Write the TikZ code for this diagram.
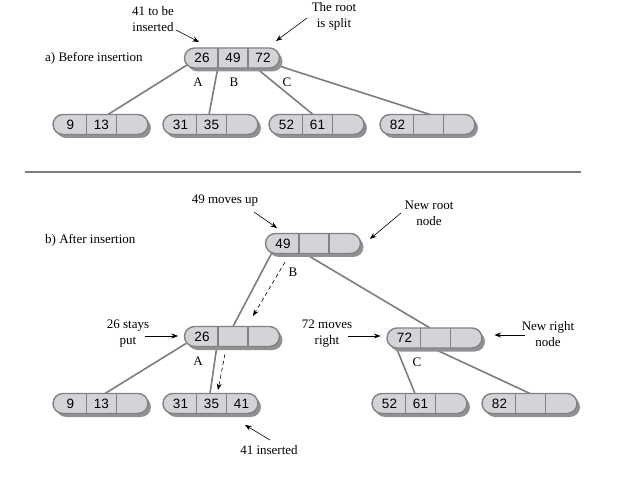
\documentclass[tikz,border=0pt]{standalone}
\usepackage{fontspec}
\setmainfont{Liberation Serif}
\newfontfamily\numfont{Liberation Sans}
\usetikzlibrary{shapes.misc,shadows,arrows.meta}
\definecolor{cellgray}{RGB}{212,212,216}
\definecolor{bordergray}{RGB}{130,130,133}
\definecolor{shadowgray}{RGB}{145,145,147}
\definecolor{linegray}{RGB}{125,125,125}
\pgfdeclarelayer{bg}
\pgfsetlayers{bg,main}
\tikzset{
  pill/.style={rounded rectangle, minimum width=95pt, minimum height=20pt, inner sep=0pt,
    fill=cellgray, draw=bordergray, line width=1.4pt,
    drop shadow={shadow xshift=3pt, shadow yshift=-3.5pt, fill=shadowgray, opacity=1}},
  divider/.style={draw=bordergray, line width=1.1pt},
  celltext/.style={font=\numfont\fontsize{13.5}{15}\selectfont, inner sep=0pt},
  lbl/.style={font=\fontsize{13}{16}\selectfont, align=center, inner sep=0pt},
  link/.style={draw=linegray, line width=1.6pt},
  note/.style={draw=black, line width=0.6pt, -{Stealth[length=6.5pt,width=5pt]}},
  dashnote/.style={draw=black, line width=0.6pt, dash pattern=on 4pt off 3pt, -{Stealth[length=6.5pt,width=5pt]}},
}
\newcommand\bpill[6]{%
  \node[pill] (#1) at (#2,#3) {};
  \draw[divider] ([shift={(-14,-10)}]#1.center) -- ([shift={(-14,10)}]#1.center);
  \draw[divider] ([shift={(16,-10)}]#1.center) -- ([shift={(16,10)}]#1.center);
  \node[celltext] (#1-1) at ([shift={(-30,0)}]#1.center) {#4};
  \node[celltext] (#1-2) at ([shift={(1,0)}]#1.center) {#5};
  \node[celltext] (#1-3) at ([shift={(31,0)}]#1.center) {#6};
}
\begin{document}
\begin{tikzpicture}[x=1pt,y=-1pt]
\useasboundingbox (0,0) rectangle (621,478);
% ---------- a) ----------
\bpill{R}{232}{58}{26}{49}{72}
\bpill{La}{100.5}{124.5}{9}{13}{}
\bpill{Lb}{210.5}{124.5}{31}{35}{}
\bpill{Lc}{316.5}{124.5}{52}{61}{}
\bpill{Ld}{427.5}{124.5}{82}{}{}
\begin{pgfonlayer}{bg}
\draw[link] ([shift={(-45,7)}]R.center) -- ([shift={(7.5,-10)}]La.center);
\draw[link] ([shift={(-14,9)}]R.center) -- ([shift={(-1.5,-10)}]Lb.center);
\draw[link] ([shift={(23,9)}]R.center) -- ([shift={(-3.5,-10)}]Lc.center);
\draw[link] ([shift={(44,7)}]R.center) -- ([shift={(2.5,-10)}]Ld.center);
\end{pgfonlayer}
\node[lbl] (A1) at (198,82) {A};
\node[lbl] (B1) at (234,82) {B};
\node[lbl] (C1) at (287,82) {C};
\node[lbl] (t41) at (153,19) {41 to be\\inserted};
\draw[note] ([shift={(23,11)}]t41.center) -- ([shift={(-33,-16)}]R.center);
\node[lbl] (troot) at (334,16) {The root\\is split};
\draw[note] ([shift={(-27,2)}]troot.center) -- ([shift={(44,-17)}]R.center);
\node[lbl, anchor=west] (ta) at (45,58) {a) Before insertion};
% separator
\coordinate (s1) at (25,172);
\coordinate (s2) at (581,172);
\draw[draw=linegray, line width=1.5pt] (s1) -- (s2);
% ---------- b) ----------
\bpill{N}{313}{243.5}{49}{}{}
\bpill{M}{232}{336.5}{26}{}{}
\bpill{P}{434.5}{338}{72}{}{}
\bpill{Ka}{100.5}{403.5}{9}{13}{}
\bpill{Kb}{210.5}{403.5}{31}{35}{41}
\bpill{Kc}{419.5}{403.5}{52}{61}{}
\bpill{Kd}{529.5}{403.5}{82}{}{}
\begin{pgfonlayer}{bg}
\draw[link] ([shift={(-41,9)}]N.center) -- ([shift={(1,-10)}]M.center);
\draw[link] ([shift={(-10,9)}]N.center) -- ([shift={(-4.5,-10)}]P.center);
\draw[link] ([shift={(-46,7)}]M.center) -- ([shift={(4.5,-10)}]Ka.center);
\draw[link] ([shift={(-15,9)}]M.center) -- ([shift={(-0.5,-10)}]Kb.center);
\draw[link] ([shift={(-38.5,9)}]P.center) -- ([shift={(-4.5,-10)}]Kc.center);
\draw[link] ([shift={(-4.5,9)}]P.center) -- ([shift={(0.5,-10)}]Kd.center);
\end{pgfonlayer}
\draw[dashnote] ([shift={(-28,18.5)}]N.center) -- ([shift={(21,-20.5)}]M.center);
\draw[dashnote] ([shift={(-7,17.5)}]M.center) -- ([shift={(7.5,-13.5)}]Kb.center);
\node[lbl] (B2) at (293,272) {B};
\node[lbl] (A2) at (198,361) {A};
\node[lbl] (C2) at (417,362) {C};
\node[lbl] (t49) at (225,201) {49 moves up};
\draw[note] ([shift={(29,11)}]t49.center) -- ([shift={(-36,-15.5)}]N.center);
\node[lbl] (tnr) at (429,213) {New root\\node};
\draw[note] ([shift={(-28,0)}]tnr.center) -- ([shift={(57,-4.5)}]N.center);
\node[lbl, anchor=west] (tb) at (45,240) {b) After insertion};
\node[lbl] (t26) at (128,334) {26 stays\\put};
\draw[note] ([shift={(17,2)}]t26.center) -- ([shift={(-54,-0.5)}]M.center);
\node[lbl] (t72) at (327,334) {72 moves\\right};
\draw[note] ([shift={(21,2)}]t72.center) -- ([shift={(-54,-2)}]P.center);
\node[lbl] (tnew) at (548,334) {New right\\node};
\draw[note] ([shift={(-23,1)}]tnew.center) -- ([shift={(60,-3)}]P.center);
\node[lbl] (t41b) at (269,450) {41 inserted};
\draw[note] ([shift={(1,-10)}]t41b.center) -- ([shift={(34.5,21.5)}]Kb.center);
\end{tikzpicture}
\end{document}
